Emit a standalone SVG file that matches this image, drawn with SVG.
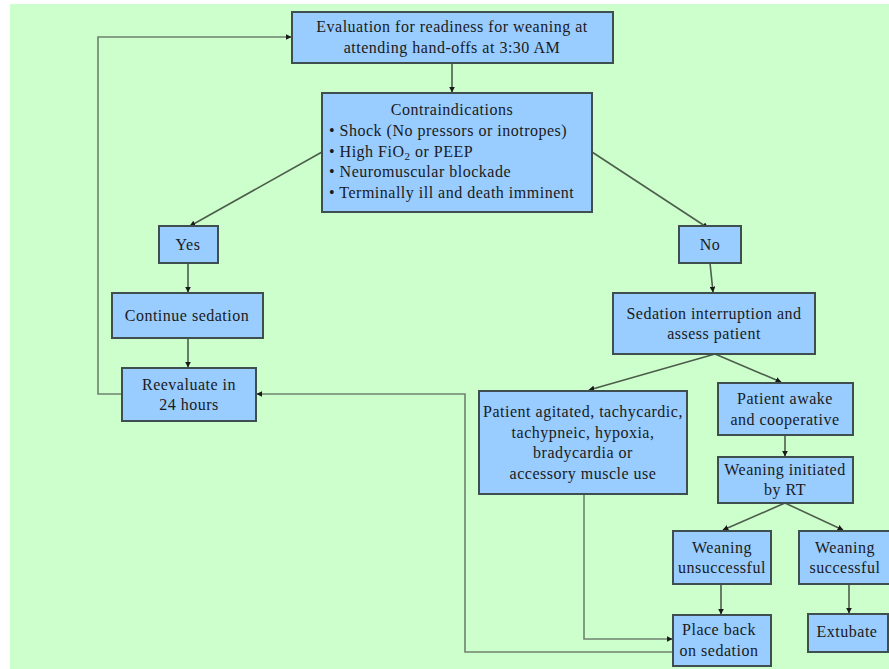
<svg xmlns="http://www.w3.org/2000/svg" width="889" height="669" viewBox="0 0 889 669">
<defs>
<style>
.bg{fill:#ccffcc}
.box{fill:#99ccff;stroke:#3f4f4f;stroke-width:2}
.t{font-family:"Liberation Serif","DejaVu Serif","Times New Roman",serif;font-size:16px;letter-spacing:0.5px;fill:#1a1a1a}
.c{text-anchor:middle}
.ln{fill:none;stroke:#4d5e4d;stroke-width:1.6}
.ln2{fill:none;stroke:#6f836f;stroke-width:1.6}
</style>
<marker id="ah" viewBox="0 0 10 10" refX="9" refY="5" markerWidth="6" markerHeight="6" orient="auto" markerUnits="userSpaceOnUse">
<path d="M0,0 L10,5 L0,10 z" fill="#1a1a1a"/>
</marker>
</defs>
<rect x="0" y="0" width="889" height="669" fill="#ffffff"/>
<rect class="bg" x="10" y="4" width="879" height="665"/>

<g id="connectors">
<path class="ln" d="M452,63 V92" marker-end="url(#ah)"/>
<path class="ln" d="M322,152 L190,226" marker-end="url(#ah)"/>
<path class="ln" d="M592,152 L708,228" marker-end="url(#ah)"/>
<path class="ln" d="M188,263 V292" marker-end="url(#ah)"/>
<path class="ln" d="M188,338 V367" marker-end="url(#ah)"/>
<path class="ln2" d="M122,394 H98 V37 H291" marker-end="url(#ah)"/>
<path class="ln" d="M710,263 L713,292" marker-end="url(#ah)"/>
<path class="ln" d="M715,354 L589,390" marker-end="url(#ah)"/>
<path class="ln" d="M715,354 L781,382" marker-end="url(#ah)"/>
<path class="ln" d="M785,435 V456" marker-end="url(#ah)"/>
<path class="ln" d="M785,503 L723,530" marker-end="url(#ah)"/>
<path class="ln" d="M785,503 L843,530" marker-end="url(#ah)"/>
<path class="ln" d="M721,584 V614" marker-end="url(#ah)"/>
<path class="ln" d="M849,584 V613" marker-end="url(#ah)"/>
<path class="ln2" d="M584,494 V639 H672" marker-end="url(#ah)"/>
<path class="ln2" d="M673,652 H465 V394 H257" marker-end="url(#ah)"/>
</g>

<g id="evaluation">
<rect class="box" x="292" y="12" width="321" height="51"/>
<text class="t c" x="452" y="32">Evaluation for readiness for weaning at</text>
<text class="t c" x="452" y="53">attending hand-offs at 3:30 AM</text>
</g>

<g id="contraindications">
<rect class="box" x="322" y="93" width="270" height="119"/>
<text class="t c" x="452" y="115">Contraindications</text>
<text class="t" x="329" y="136">• Shock (No pressors or inotropes)</text>
<text class="t" x="329" y="157">• High FiO<tspan font-size="11" dy="3">2</tspan><tspan dy="-3"> or PEEP</tspan></text>
<text class="t" x="329" y="177">• Neuromuscular blockade</text>
<text class="t" x="329" y="198">• Terminally ill and death imminent</text>
</g>

<g id="yes">
<rect class="box" x="159" y="226" width="59" height="37"/>
<text class="t c" x="188" y="250">Yes</text>
</g>

<g id="continue">
<rect class="box" x="112" y="293" width="151" height="45"/>
<text class="t c" x="187" y="321">Continue sedation</text>
</g>

<g id="reevaluate">
<rect class="box" x="122" y="368" width="134" height="53"/>
<text class="t c" x="189" y="390">Reevaluate in</text>
<text class="t c" x="189" y="410">24 hours</text>
</g>

<g id="no">
<rect class="box" x="679" y="226" width="62" height="37"/>
<text class="t c" x="710" y="250">No</text>
</g>

<g id="sedation">
<rect class="box" x="613" y="293" width="202" height="61"/>
<text class="t c" x="714" y="319">Sedation interruption and</text>
<text class="t c" x="714" y="339">assess patient</text>
</g>

<g id="agitated">
<rect class="box" x="479" y="391" width="208" height="103"/>
<text class="t c" x="583" y="417">Patient agitated, tachycardic,</text>
<text class="t c" x="583" y="438">tachypneic, hypoxia,</text>
<text class="t c" x="583" y="458">bradycardia or</text>
<text class="t c" x="583" y="479">accessory muscle use</text>
</g>

<g id="awake">
<rect class="box" x="718" y="383" width="135" height="52"/>
<text class="t c" x="785" y="404">Patient awake</text>
<text class="t c" x="785" y="425">and cooperative</text>
</g>

<g id="initiated">
<rect class="box" x="718" y="457" width="135" height="46"/>
<text class="t c" x="785" y="475">Weaning initiated</text>
<text class="t c" x="785" y="495">by RT</text>
</g>

<g id="unsuccessful">
<rect class="box" x="673" y="531" width="98" height="53"/>
<text class="t c" x="722" y="553">Weaning</text>
<text class="t c" x="722" y="573">unsuccessful</text>
</g>

<g id="successful">
<rect class="box" x="799" y="531" width="92" height="53"/>
<text class="t c" x="845" y="553">Weaning</text>
<text class="t c" x="845" y="573">successful</text>
</g>

<g id="placeback">
<rect class="box" x="673" y="615" width="98" height="51"/>
<text class="t c" x="719" y="635">Place back</text>
<text class="t c" x="719" y="656">on sedation</text>
</g>

<g id="extubate">
<rect class="box" x="808" y="614" width="80" height="38"/>
<text class="t c" x="847" y="637">Extubate</text>
</g>
</svg>
